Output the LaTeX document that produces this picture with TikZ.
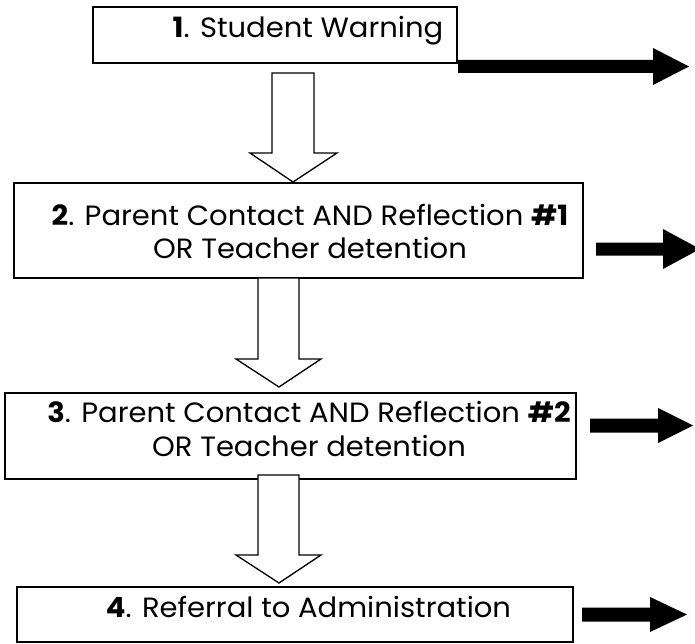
\documentclass[tikz,border=0pt]{standalone}
\usepackage{fontspec}
\setmainfont{Poppins}
\begin{document}
\begin{tikzpicture}[x=1bp,y=-1bp,
  box/.style={draw,line width=1.6bp,inner sep=0pt,outer sep=0pt},
  txt/.style={anchor=base,inner sep=0pt,font=\fontsize{28}{33}\selectfont,xscale=1.04,transform shape},
  hollow/.style={draw,line width=1.3bp,fill=white,line join=miter},
  solidarrow/.style={fill=black,draw=none}]
\useasboundingbox (0,0) rectangle (695,644);
\fill[white] (0,0) rectangle (695,644);

% boxes
\node[box,minimum width=364bp,minimum height=56bp] (b1) at (275,35) {};
\node[box,minimum width=569bp,minimum height=95bp] (b2) at (298.5,230.5) {};
\node[box,minimum width=571bp,minimum height=86bp] (b3) at (290.5,436) {};
\node[box,minimum width=556bp,minimum height=55bp] (b4) at (295,614.5) {};

% texts
\node[txt] (t1) at (308,38) {\textbf{1}. Student Warning};
\node[txt] (t2a) at (310,225) {\textbf{2}. Parent Contact AND Reflection \textbf{\#1}};
\node[txt] (t2b) at (310,258) {OR Teacher detention};
\node[txt] (t3a) at (309,422) {\textbf{3}. Parent Contact AND Reflection \textbf{\#2}};
\node[txt] (t3b) at (309,456) {OR Teacher detention};
\node[txt] (t4) at (308.5,617) {\textbf{4}. Referral to Administration};

% hollow down arrows between boxes
\draw[hollow] (272,73) -- (272,153) -- (250,153) -- (293,182) -- (337,153) -- (314,153) -- (314,73) -- cycle;
\draw[hollow] (258,278) -- (258,359) -- (236,359) -- (279,387) -- (321,359) -- (299,359) -- (299,278) -- cycle;
\draw[hollow] (258,475) -- (258,555) -- (236,555) -- (279,583) -- (321,555) -- (299,555) -- (299,475) -- cycle;

% black right arrows
\fill[solidarrow] (458,60) -- (653,60) -- (653,48) -- (689,66.5) -- (653,85) -- (653,73) -- (458,73) -- cycle;
\fill[solidarrow] (596,242.5) -- (663,242.5) -- (663,229) -- (700,249) -- (663,269) -- (663,255.5) -- (596,255.5) -- cycle;
\fill[solidarrow] (590,418.5) -- (658,418.5) -- (658,408) -- (693,425.5) -- (658,443) -- (658,432.5) -- (590,432.5) -- cycle;
\fill[solidarrow] (582,607.5) -- (650,607.5) -- (650,597) -- (687,614.5) -- (650,632) -- (650,621.5) -- (582,621.5) -- cycle;
\end{tikzpicture}
\end{document}
